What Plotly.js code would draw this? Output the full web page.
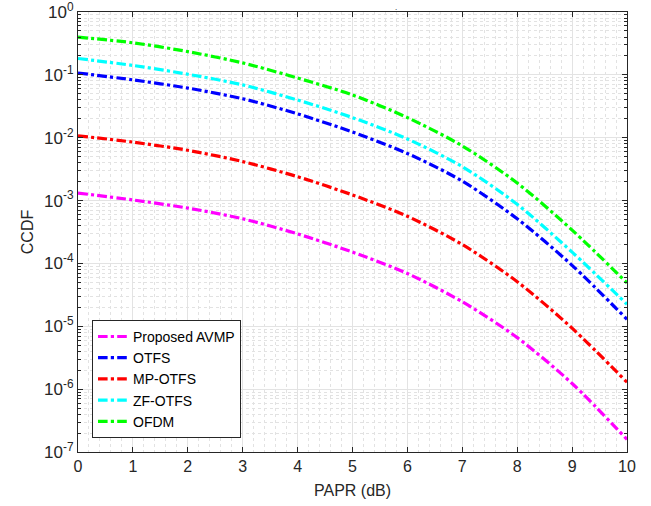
<!DOCTYPE html>
<html>
<head>
<meta charset="utf-8">
<script src="https://cdn.plot.ly/plotly-3.0.1.min.js"></script>
<style>html,body{margin:0;padding:0;background:#fff}#chart{width:651px;height:506px}</style>
</head>
<body>
<div id="chart"></div>
<script>
// PAPR threshold (dB)
const papr = [0, 1, 2, 3, 4, 5, 6, 7, 8, 9, 10];
// log10(CCDF)
const logProposedAVMP = [-2.88, -2.99, -3.12, -3.29, -3.53, -3.82, -4.16, -4.61, -5.18, -5.91, -6.80];
const logOTFS        = [-0.97, -1.08, -1.21, -1.38, -1.62, -1.91, -2.25, -2.69, -3.29, -4.03, -4.89];
const logMPOTFS      = [-1.97, -2.07, -2.20, -2.38, -2.62, -2.91, -3.25, -3.70, -4.29, -5.03, -5.89];
const logZFOTFS      = [-0.74, -0.85, -0.99, -1.16, -1.40, -1.68, -2.02, -2.46, -3.06, -3.82, -4.65];
const logOFDM        = [-0.40, -0.49, -0.63, -0.81, -1.05, -1.32, -1.68, -2.13, -2.72, -3.47, -4.31];

const seriesNames = ['Proposed AVMP', 'OTFS', 'MP-OTFS', 'ZF-OTFS', 'OFDM'];
const seriesLogs = [logProposedAVMP, logOTFS, logMPOTFS, logZFOTFS, logOFDM];
const seriesColors = ['#ff00ff', '#0000ff', '#ff0000', '#00ffff', '#00ff00'];

const decades = [-7, -6, -5, -4, -3, -2, -1, 0];
const xTicks = [0, 1, 2, 3, 4, 5, 6, 7, 8, 9, 10];

const traces = seriesNames.map((n, i) => ({
  x: papr,
  y: seriesLogs[i].map(v => Math.pow(10, v)),
  name: n,
  type: 'scatter',
  mode: 'lines',
  line: {color: seriesColors[i], width: 3.2, dash: 'dashdot', shape: 'spline', smoothing: 0.8}
}));

const yMinorVals = [];
for (let d = -7; d < 0; d++) for (let k = 2; k <= 9; k++) yMinorVals.push(k * Math.pow(10, d));
const xMinorVals = [];
for (let v = 0; v <= 10.0001; v += 0.2) xMinorVals.push(Math.round(v * 10) / 10);

const fam = 'Liberation Sans, Arial, sans-serif';

const layout = {
  width: 651, height: 506,
  margin: {l: 78, r: 24, t: 12, b: 54},
  paper_bgcolor: '#fff', plot_bgcolor: '#fff',
  showlegend: true,
  legend: {
    x: 0.0255, y: 0.032, xanchor: 'left', yanchor: 'bottom',
    bgcolor: '#fff', bordercolor: '#262626', borderwidth: 1,
    font: {family: fam, size: 14, color: '#000'},
    tracegroupgap: 0
  },
  xaxis: {
    range: [0, 10],
    tickmode: 'array', tickvals: xTicks, ticktext: xTicks.map(String),
    ticks: 'inside', ticklen: 5, tickcolor: '#262626',
    showline: true, linecolor: '#262626', linewidth: 1, mirror: 'ticks',
    showgrid: true, gridcolor: '#e3e3e3', gridwidth: 1,
    zeroline: false,
    tickfont: {family: fam, size: 16, color: '#262626'},
    minor: {tickmode: 'array', tickvals: xMinorVals, showgrid: true, gridcolor: '#e2e2e2', griddash: 'dot', gridwidth: 1, ticks: ''},
    title: {text: 'PAPR (dB)', font: {family: fam, size: 16, color: '#262626'}, standoff: 10}
  },
  yaxis: {
    type: 'log', range: [-7, 0],
    tickmode: 'array', tickvals: decades.map(d => Math.pow(10, d)),
    ticktext: decades.map(d => '10<sup>' + d + '</sup>'),
    ticklabeloverflow: 'allow',
    ticks: 'inside', ticklen: 5, tickcolor: '#262626',
    showline: true, linecolor: '#262626', linewidth: 1, mirror: 'ticks',
    showgrid: true, gridcolor: '#e3e3e3', gridwidth: 1,
    zeroline: false,
    tickfont: {family: fam, size: 17, color: '#262626'},
    minor: {tickmode: 'array', tickvals: yMinorVals, showgrid: true, gridcolor: '#e2e2e2', griddash: 'dot', gridwidth: 1, ticks: 'inside', ticklen: 3, tickcolor: '#262626'},
    title: {text: 'CCDF', font: {family: fam, size: 16, color: '#262626'}, standoff: 6}
  },
  annotations: [{
    text: '.', xref: 'paper', yref: 'paper', x: 0.58, y: 1.0, yanchor: 'bottom', xanchor: 'center',
    yshift: -2, showarrow: false, font: {family: fam, size: 8, color: '#000'}
  }]
};

Plotly.newPlot('chart', traces, layout, {staticPlot: true, displayModeBar: false});
</script>
</body>
</html>
